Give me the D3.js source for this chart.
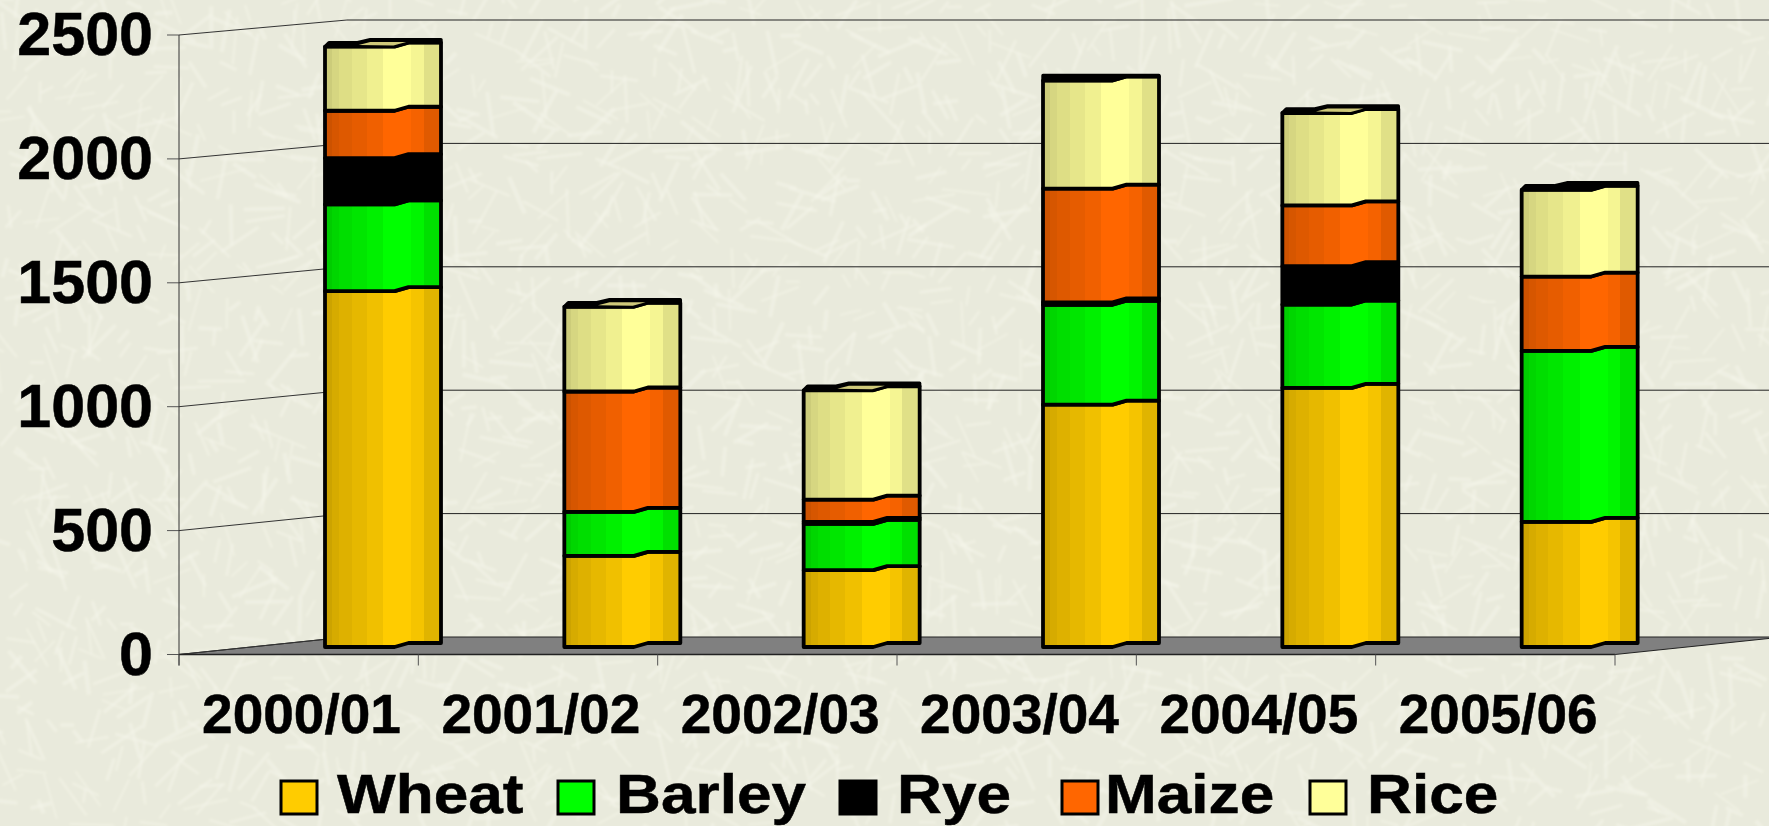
<!DOCTYPE html>
<html><head><meta charset="utf-8">
<script src="https://cdn.jsdelivr.net/npm/d3@7"></script>
<style>html,body{margin:0;padding:0;background:#e9eadc;overflow:hidden}text{font-family:"Liberation Sans",Arial,sans-serif;font-weight:700;fill:#000;stroke:#000;stroke-width:.5}</style>
</head><body><svg id="c" width="1769" height="826"></svg>
<script>
const categories=["2000/01","2001/02","2002/03","2003/04","2004/05","2005/06"];
const seriesNames=["Wheat","Barley","Rye","Maize","Rice"];
const seriesColors=["#ffcc00","#00ff00","#000000","#ff6600","#ffff99"];
const wheat=[1436,368,310,978,1046,505];
const barley=[350,177,187,403,336,690];
const rye=[187,0,8,10,155,0];
const maize=[191,486,90,459,245,300];
const rice=[259,342,441,436,373,350];
const yTicks=[0,500,1000,1500,2000,2500];
const capVisible=["2000/01","2001/02","2002/03","2004/05"];
const flatTop=["2003/04"];
const seriesValues=[wheat,barley,rye,maize,rice];

const W=1769,H=826,svg=d3.select("#c");
const defs=svg.append("defs");
const stops=[0,.06,.12,.23,.36,.5,.74,.85,1],shade=[.8,.84,.87,.9,.94,1,.96,.88];
seriesColors.forEach((c,i)=>{
  const g=defs.append("linearGradient").attr("id","g"+i);
  shade.forEach((s,k)=>{
    const col=d3.rgb(c);const v=`rgb(${col.r*s},${col.g*s},${col.b*s})`;
    g.append("stop").attr("offset",stops[k]).attr("stop-color",v);
    g.append("stop").attr("offset",stops[k+1]).attr("stop-color",v);
  });
});
defs.append("filter").attr("id","soft").append("feGaussianBlur").attr("stdDeviation",1.2);
const tex=svg.append("g").attr("filter","url(#soft)");
tex.append("rect").attr("x",-5).attr("y",-5).attr("width",W+10).attr("height",H+10).attr("fill","#e9eadc");
const PHI=0.6180339887,PL=0.7548776662;
d3.range(2800).forEach(i=>{
  const x=((i*PHI)%1)*W,y=((i*PL)%1)*H,a=((i*i*0.3713)%1)*Math.PI*2,l=14+((i*i*0.2917)%1)*36;
  tex.append("line").attr("x1",x).attr("y1",y).attr("x2",x+Math.cos(a)*l).attr("y2",y+Math.sin(a)*l)
    .attr("stroke","#f5f5ea").attr("stroke-width",2+((i*0.3247)%1)*2.5).attr("stroke-opacity",.5);
});

const y=d3.scaleLinear().domain([0,2500]).range([654.5,35]);
const yBack=d3.scaleLinear().domain([0,2500]).range([637,20]);
const x=d3.scaleBand().domain(categories).range([179,1615]);
const depthX=168;
const g=svg.append("g");
g.append("path").attr("d",d3.line()([[179,y(0)],[1615,y(0)],[1615+depthX,yBack(0)],[179+depthX,yBack(0)]])+"Z")
  .attr("fill","#808080").attr("stroke","#222").attr("stroke-width",1);
yTicks.forEach(t=>{
  if(t>0)g.append("line").attr("x1",179+depthX).attr("x2",W).attr("y1",yBack(t)).attr("y2",yBack(t)).attr("stroke","#222").attr("stroke-width",1);
  g.append("line").attr("x1",179).attr("x2",179+depthX).attr("y1",y(t)).attr("y2",yBack(t)).attr("stroke","#333").attr("stroke-width",1);
  g.append("line").attr("x1",167).attr("x2",179).attr("y1",y(t)).attr("y2",y(t)).attr("stroke","#555").attr("stroke-width",1);
  g.append("text").attr("x",153).attr("y",y(t)+20).attr("text-anchor","end").attr("font-size",61).text(t);
});
g.append("line").attr("x1",179).attr("x2",179).attr("y1",y(2500)).attr("y2",y(0)+11).attr("stroke","#333");
g.append("line").attr("x1",179).attr("x2",1615).attr("y1",y(0)).attr("y2",y(0)).attr("stroke","#222").attr("stroke-width",1.5);
[...categories,null].forEach((c,i)=>{
  const px=c?x(c):1615;
  g.append("line").attr("x1",px).attr("x2",px).attr("y1",y(0)).attr("y2",y(0)+11).attr("stroke","#555");
  if(c)g.append("text").attr("x",px+122.5).attr("y",733).attr("text-anchor","middle").attr("font-size",55).text(c);
});
const barW=116,barOff=146,zeroPx=y(0)-7.5,rise=4;
const yv=v=>y(v)-(y(0)-zeroPx);
function edge(x0,yy){return [[x0,yy],[x0+barW*.6,yy],[x0+barW*.72,yy-rise],[x0+barW,yy-rise]];}
categories.forEach((c,ci)=>{
  const x0=x(c)+barOff;let cum=0;
  seriesValues.forEach((arr,si)=>{
    const v=arr[ci];if(!v)return;
    const lo=edge(x0,yv(cum)),hi=edge(x0,yv(cum+v)).reverse();
    g.append("path").attr("d",d3.line()([...lo,...hi])+"Z").attr("fill",`url(#g${si})`)
      .attr("stroke","#000").attr("stroke-width",3.8).attr("stroke-linejoin","round");
    cum+=v;
  });
  const t=yv(cum);
  const flat=flatTop.includes(c);
  const cap=flat
    ?[[x0,t],[x0,t-5],[x0+barW,t-5],[x0+barW,t-rise],[x0+barW*.72,t-rise],[x0+barW*.6,t]]
    :[[x0,t],[x0+4,t-4],[x0+barW*.28,t-4],[x0+barW*.39,t-7],[x0+barW,t-7],[x0+barW,t-rise],[x0+barW*.72,t-rise],[x0+barW*.6,t]];
  g.append("path").attr("d",d3.line()(cap)+"Z").attr("fill","#000").attr("stroke","#000").attr("stroke-width",3.4).attr("stroke-linejoin","round");
  if(capVisible.includes(c)){
    g.append("path").attr("d",d3.line()([[x0+barW*.29,t-1.5],[x0+barW*.39,t-4.5],[x0+barW*.7,t-4.5],[x0+barW*.59,t-1]])+"Z").attr("fill","#cfc97a");
  }
});
const lx=[281,558,840,1062,1310],tx=[337,616,897,1105,1367];
seriesNames.forEach((n,i)=>{
  g.append("rect").attr("x",lx[i]).attr("y",781).attr("width",36).attr("height",33).attr("fill",seriesColors[i]).attr("stroke","#000").attr("stroke-width",3);
  g.append("text").attr("transform",`translate(${tx[i]},813) scale(1.11,1)`).attr("font-size",56).text(n);
});
</script></body></html>
